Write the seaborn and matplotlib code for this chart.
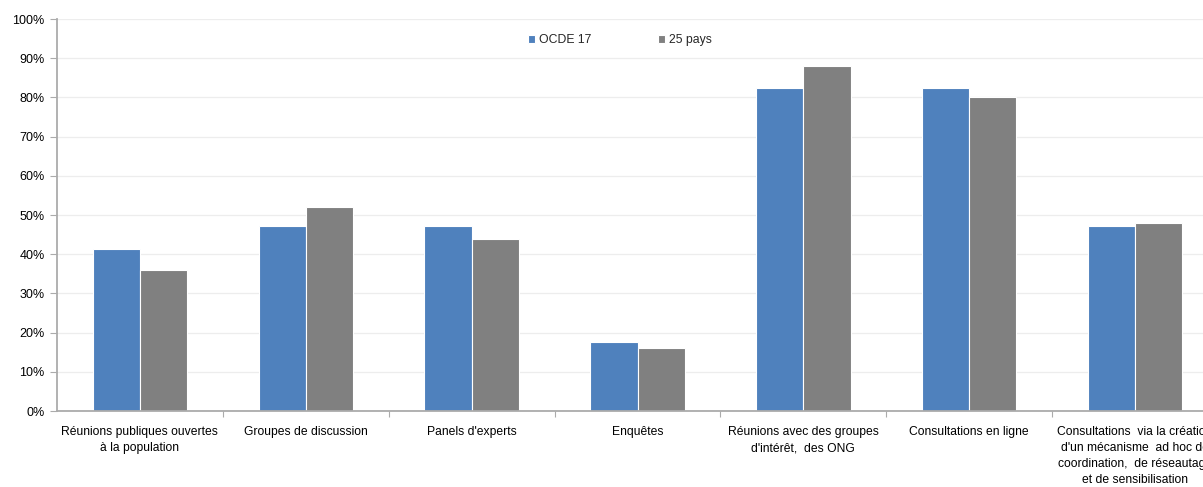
import numpy as np
import pandas as pd
import matplotlib
matplotlib.use("Agg")
import matplotlib.pyplot as plt
import seaborn as sns
from matplotlib.ticker import PercentFormatter, FixedLocator

categories = [
    "Réunions publiques ouvertes\nà la population",
    "Groupes de discussion",
    "Panels d'experts",
    "Enquêtes",
    "Réunions avec des groupes\nd'intérêt,  des ONG",
    "Consultations en ligne",
    "Consultations  via la création\nd'un mécanisme  ad hoc de\ncoordination,  de réseautage\net de sensibilisation",
]
series_names = ["OCDE 17", "25 pays"]
ocde17 = [41.2, 47.1, 47.1, 17.6, 82.4, 82.4, 47.1]
pays25 = [36.0, 52.0, 44.0, 16.0, 88.0, 80.0, 48.0]
colors = ["#4F81BD", "#808080"]

df = pd.DataFrame({
    "categorie": categories * 2,
    "serie": [series_names[0]] * len(categories) + [series_names[1]] * len(categories),
    "valeur": ocde17 + pays25,
})

sns.set_theme(style="white")
plt.rcParams["font.family"] = ["Liberation Sans", "DejaVu Sans"]

W, H = 1203, 487
fig = plt.figure(figsize=(W / 100, H / 100), dpi=100)
x0, x1, y0, y1 = 57, 1218, 19, 411
ax = fig.add_axes([x0 / W, 1 - y1 / H, (x1 - x0) / W, (y1 - y0) / H])

sns.barplot(data=df, x="categorie", y="valeur", hue="serie", order=categories,
            hue_order=series_names, palette=colors, width=0.57, gap=0,
            edgecolor="white", linewidth=0.8, saturation=1, ax=ax, legend=True)

ax.set_xlim(-0.5, len(categories) - 0.5)
ax.set_ylim(0, 100)
ax.set_yticks(np.arange(0, 101, 10))
ax.yaxis.set_major_formatter(PercentFormatter(decimals=0))
ax.grid(axis="y", color="#EDEDED", linewidth=0.9)
ax.set_axisbelow(True)
ax.set_xlabel("")
ax.set_ylabel("")

for side in ["top", "right"]:
    ax.spines[side].set_visible(False)
for side in ["left", "bottom"]:
    ax.spines[side].set_color("#ABABAB")
    ax.spines[side].set_linewidth(1.3)

ax.tick_params(axis="y", which="major", left=True, length=5, width=0.8,
               color="#ABABAB", labelsize=9, pad=4, labelcolor="black")
ax.tick_params(axis="x", which="major", bottom=False, labelsize=8.7, pad=5,
               labelcolor="black")
ax.xaxis.set_minor_locator(FixedLocator(np.arange(0.5, len(categories) - 0.5, 1)))
ax.tick_params(axis="x", which="minor", bottom=True, length=4, width=0.8,
               color="#ABABAB")
for lab in ax.get_xticklabels():
    lab.set_linespacing(1.45)
    lab.set_verticalalignment("top")

handles, labels = ax.get_legend_handles_labels()
ax.legend(handles, labels, loc="center", bbox_to_anchor=(620 / W, 1 - 40 / H),
          bbox_transform=fig.transFigure, ncol=2, frameon=False,
          handlelength=0.6, handleheight=0.6, handletextpad=0.35,
          columnspacing=5.4, fontsize=8.8)

fig.savefig("out.png", dpi=100)
